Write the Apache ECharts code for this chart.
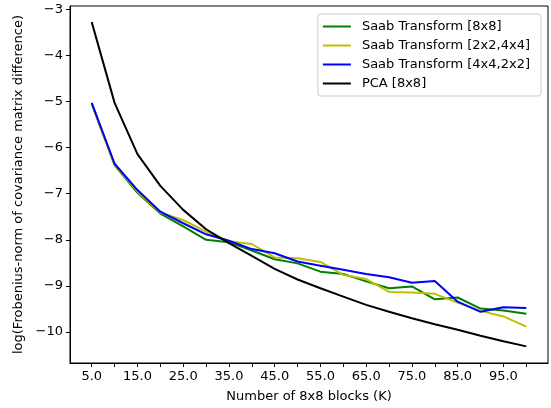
<!DOCTYPE html>
<html>
<head>
<meta charset="utf-8">
<script src="https://cdn.jsdelivr.net/npm/echarts@6/dist/echarts.min.js"></script>
<style>
  html, body { margin: 0; padding: 0; background: #fff; }
  #chart { width: 551px; height: 408px; }
</style>
</head>
<body>
<div id="chart"></div>
<script>
// Number of 8x8 blocks (K)
const blocks = [5, 10, 15, 20, 25, 30, 35, 40, 45, 50, 55, 60, 65, 70, 75, 80, 85, 90, 95, 100];

const saab8x8 = [-5.05, -6.38, -6.98, -7.43, -7.71, -8.00, -8.05, -8.23, -8.42, -8.51,
                 -8.69, -8.74, -8.90, -9.05, -9.01, -9.29, -9.25, -9.49, -9.53, -9.60];
const saab2x2_4x4 = [-5.05, -6.37, -6.95, -7.41, -7.57, -7.82, -8.03, -8.09, -8.38, -8.40,
                     -8.48, -8.76, -8.85, -9.13, -9.14, -9.17, -9.36, -9.54, -9.66, -9.88];
const saab4x4_2x2 = [-5.03, -6.35, -6.92, -7.39, -7.64, -7.88, -8.02, -8.20, -8.29, -8.47,
                     -8.56, -8.65, -8.74, -8.81, -8.93, -8.89, -9.34, -9.56, -9.46, -9.48];
const pca8x8 = [-3.28, -5.03, -6.14, -6.83, -7.35, -7.77, -8.07, -8.35, -8.63, -8.86,
                -9.05, -9.23, -9.41, -9.56, -9.70, -9.83, -9.95, -10.08, -10.20, -10.31];

const xTicks = [5, 10, 15, 20, 25, 30, 35, 40, 45, 50, 55, 60, 65, 70, 75, 80, 85, 90, 95, 100];
const xLabels = [5, 15, 25, 35, 45, 55, 65, 75, 85, 95];
const yTicks = [-10, -9, -8, -7, -6, -5, -4, -3];

const FONT = 'DejaVu Sans';
const FS = 13;

function pairs(ys) { return blocks.map((k, i) => [k, ys[i]]); }

function lineSeries(name, ys, color) {
  return {
    name: name,
    type: 'line',
    data: pairs(ys),
    symbol: 'none',
    lineStyle: { color: color, width: 2 },
    itemStyle: { color: color },
    emphasis: { disabled: true },
    animation: false
  };
}

const chart = echarts.init(document.getElementById('chart'), null, { renderer: 'canvas' });
chart.setOption({
  backgroundColor: '#fff',
  animation: false,
  textStyle: { fontFamily: FONT },
  grid: {
    left: 70, right: 3, top: 6, bottom: 45,
    containLabel: false,
    show: true, borderColor: '#000', borderWidth: 1, backgroundColor: 'transparent'
  },
  legend: {
    orient: 'vertical',
    right: 10, top: 14,
    icon: 'rect',
    itemWidth: 28, itemHeight: 2,
    itemGap: 6,
    padding: [6, 11, 6, 5],
    borderColor: '#cccccc', borderWidth: 1, borderRadius: 3,
    backgroundColor: 'rgba(255,255,255,0.8)',
    textStyle: { fontFamily: FONT, fontSize: FS, color: '#000', padding: [0, 0, 0, 6] },
    data: ['Saab Transform [8x8]', 'Saab Transform [2x2,4x4]', 'Saab Transform [4x4,2x2]', 'PCA [8x8]']
  },
  xAxis: {
    type: 'value',
    min: 0.25, max: 104.75,
    name: 'Number of 8x8 blocks (K)',
    nameLocation: 'middle',
    nameGap: 27,
    nameTextStyle: { fontFamily: FONT, fontSize: FS, color: '#000' },
    axisLine: { show: true, onZero: false, lineStyle: { color: '#000', width: 1 } },
    axisTick: { show: true, length: 4, lineStyle: { color: '#000' }, customValues: xTicks },
    axisLabel: {
      fontFamily: FONT, fontSize: FS, color: '#000', margin: 7,
      customValues: xLabels,
      formatter: v => v.toFixed(1)
    },
    splitLine: { show: false }
  },
  yAxis: {
    type: 'value',
    min: -10.67, max: -2.93,
    name: 'log(Frobenius-norm of covariance matrix difference)',
    nameLocation: 'middle',
    nameGap: 41,
    nameRotate: 90,
    nameTextStyle: { fontFamily: FONT, fontSize: FS, color: '#000' },
    axisLine: { show: true, onZero: false, lineStyle: { color: '#000', width: 1 } },
    axisTick: { show: true, length: 4, lineStyle: { color: '#000' }, customValues: yTicks },
    axisLabel: {
      fontFamily: FONT, fontSize: FS, color: '#000', margin: 7,
      customValues: yTicks,
      formatter: v => (v < 0 ? '\u2212' + Math.abs(v) : String(v))
    },
    splitLine: { show: false }
  },
  series: [
    lineSeries('Saab Transform [8x8]', saab8x8, '#008000'),
    lineSeries('Saab Transform [2x2,4x4]', saab2x2_4x4, '#bfbf00'),
    lineSeries('Saab Transform [4x4,2x2]', saab4x4_2x2, '#0000ff'),
    lineSeries('PCA [8x8]', pca8x8, '#000000')
  ]
});
</script>
</body>
</html>
